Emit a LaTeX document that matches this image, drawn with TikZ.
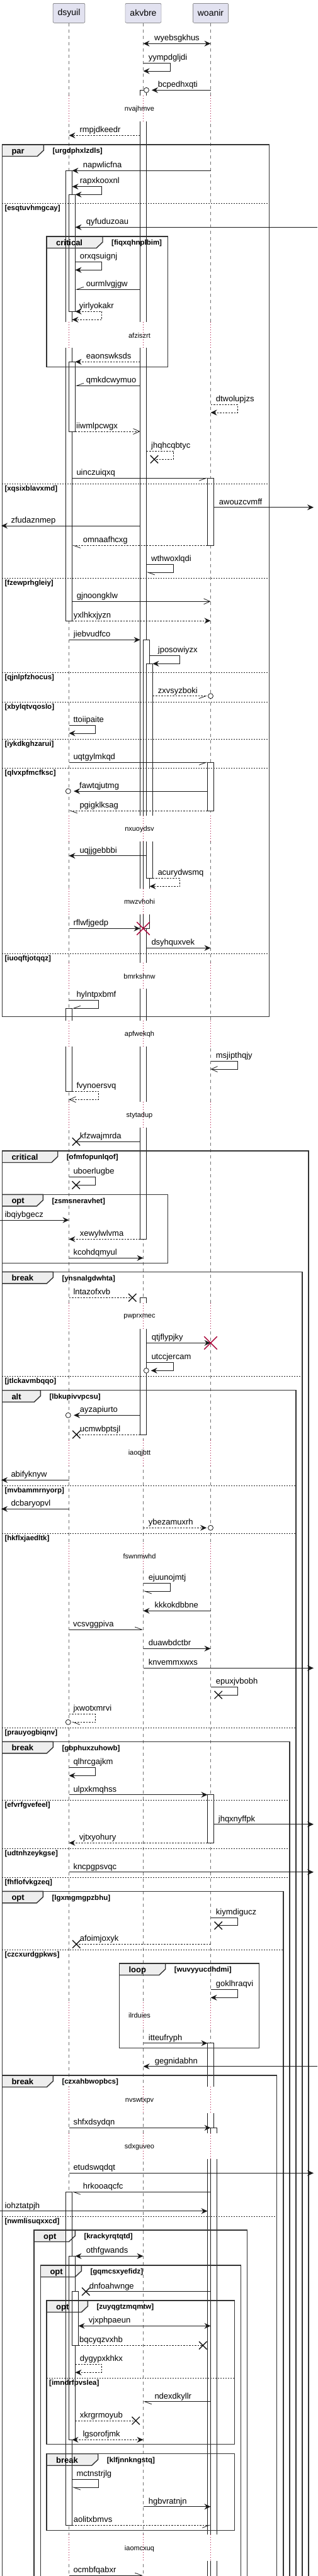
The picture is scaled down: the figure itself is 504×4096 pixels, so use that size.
\documentclass[tikz,border=0pt]{standalone}
\usepackage{fontspec}
\setmainfont{Liberation Sans}
\usetikzlibrary{arrows.meta, shapes.misc}
\definecolor{partfill}{RGB}{226,226,240}
\definecolor{tabfill}{RGB}{238,238,238}
\definecolor{delayred}{RGB}{168,0,54}

\begin{document}
\begin{tikzpicture}[x=1pt, y=-1pt,
        partbox/.style={draw=black!65, fill=partfill, rounded corners=2pt, minimum height=31pt, inner xsep=7.5pt, font=\fontsize{14}{16}\selectfont},
        life/.style={draw=black!55, line width=0.6pt, dash pattern=on 5pt off 5pt},
        act/.style={draw=black!90, fill=white, line width=0.8pt},
        dly/.style={draw=delayred, line width=0.7pt, dash pattern=on 1pt off 3pt},
        dlytxt/.style={font=\fontsize{11}{13}\selectfont, inner sep=0pt},
        grp/.style={draw=black!80, line width=1.4pt},
        grptab/.style={fill=tabfill},
        grpkw/.style={anchor=base west, inner sep=0pt, font=\bfseries\fontsize{13}{15}\selectfont},
        grpcond/.style={anchor=base west, inner sep=0pt, font=\bfseries\fontsize{11.5}{13}\selectfont},
        elsesep/.style={draw=black!85, line width=0.7pt, dash pattern=on 2pt off 2pt},
        msg/.style={draw=black!90, line width=0.8pt},
        ret/.style={msg, dash pattern=on 2.5pt off 2pt},
        fhead/.style={arrows={-Stealth[length=10pt,width=9pt,inset=3.5pt]}},
        bhead/.style={arrows={Stealth[length=10pt,width=9pt,inset=3.5pt]-Stealth[length=10pt,width=9pt,inset=3.5pt]}},
        vhead/.style={arrows={-Straight Barb[length=10pt,width=9pt]}},
        lhead/.style={arrows={-Straight Barb[left,length=11pt,width=8pt]}},
        rhead/.style={arrows={-Straight Barb[right,length=11pt,width=8pt]}},
        lbl/.style={anchor=base west, inner sep=0pt, font=\fontsize{13}{15}\selectfont},
        circ/.style={circle, draw=black!90, fill=white, line width=0.8pt, minimum size=8pt, inner sep=0pt},
        lost/.style={cross out, draw=black!90, line width=1.4pt, minimum size=11pt, inner sep=0pt},
        kill/.style={cross out, draw=delayred, line width=1.5pt, minimum size=19pt, inner sep=0pt}
    ]
        \useasboundingbox (0,0) rectangle (504,4096);
        \fill[white] (0,0) rectangle (504,4096);
        \clip (0,0) rectangle (504,4096);

        % Groups: x0/y0/x1/y1/tab end/keyword/condition
        \def\grplist{3.3/230/427.3/1616.7/69.3/par/urgdphxlzdls,
            74/376/266.7/583.3/163/critical/fiqxqhnplbim,
            3.3/1830/490/4110/91.7/critical/ofmfopunlqof,
            3.3/1899.3/266.7/2008.3/68.3/opt/zsmsneravhet,
            3.3/2022.3/480/4110/84.3/break/ynsnalgdwhta,
            3.3/2210.7/470/4110/64.3/alt/lbkupivvpcsu,
            3.3/2769.3/460/4110/84.3/break/gbphuxzuhowb,
            3.3/3007.3/450/4110/68.3/opt/lgxmgmgpzbhu,
            189.3/3122/411.7/3256.7/262.7/loop/wuvyyucdhdmi,
            3.3/3300/439.3/4110/84.3/break/czxahbwopbcs,
            54/3546/392.3/4110/119.3/opt/krackyrqtqtd,
            64.3/3602/382.3/4110/129.3/opt/gqmcsxyefidz,
            74/3658/372.3/3886.7/139.3/opt/zuyqgtzmqmtw,
            74/3901.7/372.3/4023.3/155.7/break/klfjnnkngstq}

        % Group tabs (background)
        \foreach \xa/\ya/\xb/\yb/\xt/\kw/\cnd in \grplist {
            \fill[grptab] (\xa,\ya) -- (\xt,\ya) -- (\xt,\ya+9) -- (\xt-10,\ya+18.5) -- (\xa,\ya+18.5) -- cycle;
        }

        % Participants
        \node[partbox] (dsyuil) at (109.5,20.8) {dsyuil};
        \node[partbox] (akvbre) at (227.5,20.8) {akvbre};
        \node[partbox] (woanir) at (334.5,20.8) {woanir};

        % Columns
        \coordinate (dC) at (dsyuil.center);
        \coordinate (dL) at ([xshift=-5pt]dsyuil.center);
        \coordinate (dR) at ([xshift=5pt]dsyuil.center);
        \coordinate (dR1) at ([xshift=10pt]dsyuil.center);
        \coordinate (dR2) at ([xshift=15pt]dsyuil.center);
        \coordinate (aC) at (akvbre.center);
        \coordinate (aL) at ([xshift=-5pt]akvbre.center);
        \coordinate (aR) at ([xshift=5pt]akvbre.center);
        \coordinate (aR1) at ([xshift=10pt]akvbre.center);
        \coordinate (aR2) at ([xshift=15pt]akvbre.center);
        \coordinate (wC) at (woanir.center);
        \coordinate (wL) at ([xshift=-5pt]woanir.center);
        \coordinate (wR) at ([xshift=5pt]woanir.center);
        \coordinate (wR1) at ([xshift=10pt]woanir.center);
        \coordinate (edgeL) at (0,0);
        \coordinate (edgeR) at (504,0);
        \coordinate (tipL) at (2,0);
        \coordinate (tipR) at (498,0);

        % Lifelines
        \draw[life] (dsyuil.south) -- (dsyuil |- 0,4110);
        \draw[life] (akvbre.south) -- (akvbre |- 0,4110);
        \draw[life] (woanir.south) -- (woanir |- 0,4110);

        % Activations
        \draw[act] (dL |- 0,271.3) rectangle (dR |- 0,987);
        \draw[act] (dC |- 0,309.3) rectangle (dR1 |- 0,495.3);
        \draw[act] (dC |- 0,575.3) rectangle (dR1 |- 0,686);
        \draw[act] (dL |- 0,1603.3) rectangle (dR |- 0,1735.3);
        \draw[act] (dL |- 0,3485.3) rectangle (dR |- 0,4015.3);
        \draw[act] (dC |- 0,3587.3) rectangle (dR1 |- 0,3879.3);
        \draw[act] (dR |- 0,3643.7) rectangle (dR2 |- 0,3729.3);
        \draw[act] (aL |- 0,143.3) rectangle (aR |- 0,1970.3);
        \draw[act] (aC |- 0,1017.3) rectangle (aR1 |- 0,1476.3);
        \draw[act] (aR |- 0,1055.3) rectangle (aR2 |- 0,1396.7);
        \draw[act] (aL |- 0,2063.3) rectangle (aR |- 0,2281);
        \draw[act] (wL |- 0,760.3) rectangle (wR |- 0,867.3);
        \draw[act] (wL |- 0,1212.3) rectangle (wR |- 0,1289);
        \draw[act] (wL |- 0,2853.7) rectangle (wR |- 0,2930.3);
        \draw[act] (wL |- 0,3248.7) rectangle (wR |- 0,4110);
        \draw[act] (wC |- 0,3383.3) rectangle (wR1 |- 0,4110);

        % Delays
        \foreach \ya/\yb/\yt/\txt in {152/193/173.3/nvajhmve, 511.7/552.7/533.3/afziszrt,
            1297.3/1338.3/1318.3/nxuoydsv, 1412.7/1454.3/1434/mwzvhohi, 1530.7/1572.3/1552.3/bmrkshnw,
            1623.3/1664/1645/apfwekqh, 1751.7/1793.3/1773.3/stytadup, 2071.7/2113.3/2093.3/pwprxmec,
            2290/2331/2311/iaoqjbtt, 2454/2496/2475/fswnmwhd, 3184/3226/3205/ilrduies,
            3318.3/3360/3340/nvswtxpv, 3392/3433/3413.3/sdxguveo, 4030/4072/4052.3/iaomcxuq} {
            \foreach \x in {109.5,227.5,334.5} {
                \fill[white] (\x-12,\ya) rectangle (\x+17,\yb);
                \draw[dly] (\x,\ya) -- (\x,\yb);
            }
            \node[dlytxt] (\txt) at (221.5,\yt) {\txt};
        }

        % Group frames
        \foreach \xa/\ya/\xb/\yb/\xt/\kw/\cnd in \grplist {
            \draw[grp] (\xa,\ya) rectangle (\xb,\yb);
            \draw[grp] (\xa,\ya) -- (\xt,\ya) -- (\xt,\ya+9) -- (\xt-10,\ya+18.5) -- (\xa,\ya+18.5);
            \node[grpkw] (tab-\cnd) at (\xa+15,\ya+14.5) {\kw};
            \node[grpcond] (\cnd) at (\xt+14,\ya+13.8) {[\cnd]};
        }

        % Else separators
        \foreach \xa/\xb/\y/\cnd in {3.3/427.3/323.3/esqtuvhmgcay, 3.3/427.3/769.3/xqsixblavxmd,
            3.3/427.3/919/fzewprhgleiy, 3.3/427.3/1069.3/qjnlpfzhocus, 3.3/427.3/1116.7/xbylqtvqoslo,
            3.3/427.3/1175.3/iykdkghzarui, 3.3/427.3/1221.3/qlvxpfmcfksc, 3.3/427.3/1516/iuoqftjotqqz,
            3.3/480/2188.3/jtlckavmbqqo, 3.3/470/2362.3/mvbammrnyorp, 3.3/470/2438.3/hkflxjaedltk,
            3.3/470/2747.3/prauyogbiqnv, 3.3/460/2862.3/efvrfgvefeel, 3.3/460/2939.3/udtnhzeykgse,
            3.3/460/2985.7/fhflofvkgzeq, 3.3/450/3100.3/czcxurdgpkws, 3.3/439.3/3524.3/nwmlisuqxxcd,
            74/372.3/3781.3/imndrfpvslea} {
            \draw[elsesep] (\xa,\y) -- (\xb,\y);
            \node[grpcond] (\cnd) at (\xa+4,\y+11) {[\cnd]};
        }

        % Messages
        \draw[msg,bhead] (aC |- 0,69.3) -- (wC |- 0,69.3);
        \node[lbl] (wyebsgkhus) at (245,64.8) {wyebsgkhus};
        \draw[msg,fhead] (aC |- 0,100.3) -| (270.3,113) -- (aC |- 0,113);
        \node[lbl] (yympdgljdi) at (235.7,95.3) {yympdgljdi};
        \node[circ] (o1) at (aR |- 0,143.3) {};
        \draw[msg,fhead,shorten >=4pt] (wC |- o1) -- (o1.east);
        \node[lbl] (bcpedhxqti) at (250.7,138.8) {bcpedhxqti};
        \draw[ret,fhead] (aL |- 0,215.3) -- (dC |- 0,215.3);
        \node[lbl] (rmpjdkeedr) at (126.3,210.8) {rmpjdkeedr};
        \draw[msg,fhead] (wC |- 0,271.3) -- (dR |- 0,271.3);
        \node[lbl] (napwlicfna) at (131.7,266.8) {napwlicfna};
        \draw[msg,bhead] (dR |- 0,296.7) -| (161.7,309.3) -- (dR1 |- 0,309.3);
        \node[lbl] (rapxkooxnl) at (126.7,291.7) {rapxkooxnl};
        \draw[msg,fhead] (edgeR |- 0,361.3) -- (dR1 |- 0,361.3);
        \node[lbl] (qyfuduzoau) at (136.7,356.8) {qyfuduzoau};
        \draw[msg,fhead] (dR1 |- 0,416.7) -| (161.7,429.3) -- (dR1 |- 0,429.3);
        \node[lbl] (orxqsuignj) at (126.7,411.7) {orxqsuignj};
        \draw[msg,rhead] (aL |- 0,460.3) -- (dR1 |- 0,460.3);
        \node[lbl] (ourmlvgjgw) at (136.7,455.8) {ourmlvgjgw};
        \draw[ret,bhead] (dR1 |- 0,495.3) -| (161.7,508.3) -- (dR |- 0,508.3);
        \node[lbl] (yirlyokakr) at (125.7,490.3) {yirlyokakr};
        \draw[ret,fhead] (aL |- 0,575.3) -- (dR1 |- 0,575.3);
        \node[lbl] (eaonswksds) at (136.7,570.8) {eaonswksds};
        \draw[msg,rhead] (aL |- 0,613.3) -- (dR1 |- 0,613.3);
        \node[lbl] (qmkdcwymuo) at (136.7,608.8) {qmkdcwymuo};
        \draw[ret,fhead] (wC |- 0,643.3) -| (377.3,656) -- (wC |- 0,656);
        \node[lbl] (dtwolupjzs) at (342.7,638.3) {dtwolupjzs};
        \draw[ret,vhead] (dR1 |- 0,686) -- (aL |- 0,686);
        \node[lbl] (iiwmlpcwgx) at (121,681.5) {iiwmlpcwgx};
        \node[lost] (x1) at (245,730.3) {};
        \draw[ret] (aR |- 0,717.3) -| (275.7,730.3) -- (x1.center);
        \node[lbl] (jhqhcqbtyc) at (240,712.3) {jhqhcqbtyc};
        \draw[msg,rhead] (dR |- 0,760.3) -- (wL |- 0,760.3);
        \node[lbl] (uinczuiqxq) at (121.3,755.8) {uinczuiqxq};
        \draw[msg,fhead] (wR |- 0,806.7) -- (tipR |- 0,806.7);
        \node[lbl] (awouzcvmff) at (347.7,802.2) {awouzcvmff};
        \draw[msg,fhead] (aL |- 0,836) -- (tipL |- 0,836);
        \node[lbl] (zfudaznmep) at (17.3,831.5) {zfudaznmep};
        \draw[ret,lhead] (wL |- 0,867.3) -- (dR |- 0,867.3);
        \node[lbl] (omnaafhcxg) at (131.7,862.8) {omnaafhcxg};
        \draw[msg,lhead] (aR |- 0,897.7) -| (275.7,910) -- (aR |- 0,910);
        \node[lbl] (wthwoxlqdi) at (240,892.7) {wthwoxlqdi};
        \draw[msg,vhead] (dR |- 0,956.3) -- (wC |- 0,956.3);
        \node[lbl] (gjnoongklw) at (121.7,951.8) {gjnoongklw};
        \draw[ret,fhead] (dR |- 0,987) -- (wC |- 0,987);
        \node[lbl] (yxlhkxjyzn) at (116.7,982.5) {yxlhkxjyzn};
        \draw[msg,fhead] (dC |- 0,1017.3) -- (aL |- 0,1017.3);
        \node[lbl] (jiebvudfco) at (116.7,1012.8) {jiebvudfco};
        \draw[msg,fhead] (aR1 |- 0,1042.7) -| (285.7,1055.3) -- (aR2 |- 0,1055.3);
        \node[lbl] (jposowiyzx) at (250.7,1037.7) {jposowiyzx};
        \node[circ] (o2) at (wC |- 0,1106.7) {};
        \draw[ret,rhead,shorten >=1pt] (aR2 |- o2) -- (o2.west);
        \node[lbl] (zxvsyzboki) at (250.7,1102.2) {zxvsyzboki};
        \draw[msg,fhead] (dC |- 0,1153.7) -| (151.7,1166) -- (dC |- 0,1166);
        \node[lbl] (ttoiipaite) at (116.3,1148.7) {ttoiipaite};
        \draw[msg,rhead] (dC |- 0,1212.3) -- (wL |- 0,1212.3);
        \node[lbl] (uqtgylmkqd) at (116.3,1207.8) {uqtgylmkqd};
        \node[circ] (o3) at (108.3,1258) {};
        \draw[msg,fhead,shorten >=4.4pt] (wL |- o3) -- (o3.east);
        \node[lbl] (fawtqjutmg) at (126,1253.5) {fawtqjutmg};
        \draw[ret,lhead] (wL |- 0,1289) -- (dC |- 0,1289);
        \node[lbl] (pgigklksag) at (126.3,1284.5) {pgigklksag};
        \draw[msg,fhead] (aR |- 0,1360.7) -- (dC |- 0,1360.7);
        \node[lbl] (uqjjgebbbi) at (126.3,1356.2) {uqjjgebbbi};
        \draw[ret,fhead] (aR2 |- 0,1396.7) -| (285.7,1409.3) -- (aR1 |- 0,1409.3);
        \node[lbl] (acurydwsmq) at (250.3,1391.7) {acurydwsmq};
        \draw[msg,fhead] (dC |- 0,1476.3) -- (aL |- 0,1476.3);
        \node[kill] (k1) at (aC |- 0,1476.3) {};
        \node[lbl] (rflwfjgedp) at (116.3,1471.8) {rflwfjgedp};
        \draw[msg,fhead] (aR |- 0,1507.3) -- (wC |- 0,1507.3);
        \node[lbl] (dsyhquxvek) at (240.3,1502.8) {dsyhquxvek};
        \draw[msg,rhead] (dC |- 0,1590.3) -| (156.7,1603.3) -- (dR |- 0,1603.3);
        \node[lbl] (hylntpxbmf) at (121.3,1585.3) {hylntpxbmf};
        \draw[msg,vhead] (wC |- 0,1687.7) -| (377.3,1700) -- (wC |- 0,1700);
        \node[lbl] (msjipthqjy) at (342.7,1682.7) {msjipthqjy};
        \draw[ret,vhead] (dR |- 0,1735.3) -| (156.7,1748.3) -- (dC |- 0,1748.3);
        \node[lbl] (fvynoersvq) at (121.3,1730.3) {fvynoersvq};
        \node[lost] (x2) at (121,1815.3) {};
        \draw[msg] (aL |- x2) -- (x2.center);
        \node[lbl] (kfzwajmrda) at (126.7,1810.8) {kfzwajmrda};
        \node[lost] (x3) at (120.7,1884.3) {};
        \draw[msg] (dC |- 0,1871.7) -| (151.7,1884.3) -- (x3.center);
        \node[lbl] (uboerlugbe) at (116.3,1866.7) {uboerlugbe};
        \draw[msg,fhead] (edgeL |- 0,1940) -- (dC |- 0,1940);
        \node[lbl] (ibqiybgecz) at (7.3,1935.5) {ibqiybgecz};
        \draw[ret,fhead] (aL |- 0,1970.3) -- (dC |- 0,1970.3);
        \node[lbl] (xewylwlvma) at (126.7,1965.8) {xewylwlvma};
        \draw[msg,fhead] (dC |- 0,2000.3) -- (aC |- 0,2000.3);
        \node[lbl] (kcohdqmyul) at (116.3,1995.8) {kcohdqmyul};
        \node[lost] (x4) at (210.3,2063.3) {};
        \draw[ret] (dC |- x4) -- (x4.center);
        \node[lbl] (lntazofxvb) at (116.3,2058.8) {lntazofxvb};
        \draw[msg,fhead] (aR |- 0,2135.3) -- (wC |- 0,2135.3);
        \node[kill] (k2) at (wC |- 0,2135.3) {};
        \node[lbl] (qtjflypjky) at (240.7,2130.8) {qtjflypjky};
        \node[circ] (o4) at (232.3,2179.3) {};
        \draw[msg,fhead,shorten >=3pt] (aR |- 0,2166.7) -| (275.7,2179.3) -- (o4.east);
        \node[lbl] (utccjercam) at (240.3,2161.7) {utccjercam};
        \node[circ] (o5) at (108.3,2250.3) {};
        \draw[msg,fhead,shorten >=4.4pt] (aL |- o5) -- (o5.east);
        \node[lbl] (ayzapiurto) at (126.7,2245.8) {ayzapiurto};
        \node[lost] (x5) at (121.3,2281) {};
        \draw[ret] (aL |- x5) -- (x5.center);
        \node[lbl] (ucmwbptsjl) at (126.7,2276.5) {ucmwbptsjl};
        \draw[msg,fhead] (dC |- 0,2353.3) -- (tipL |- 0,2353.3);
        \node[lbl] (abifyknyw) at (17.3,2348.8) {abifyknyw};
        \draw[msg,fhead] (dC |- 0,2399.3) -- (tipL |- 0,2399.3);
        \node[lbl] (dcbaryopvl) at (17.3,2394.8) {dcbaryopvl};
        \node[circ] (o6) at (wC |- 0,2429.3) {};
        \draw[ret,fhead,shorten >=2pt] (aC |- o6) -- (o6.west);
        \node[lbl] (ybezamuxrh) at (235.7,2424.8) {ybezamuxrh};
        \draw[msg,lhead] (aC |- 0,2517.3) -| (270.3,2530) -- (aC |- 0,2530);
        \node[lbl] (ejuunojmtj) at (235.7,2512.3) {ejuunojmtj};
        \draw[msg,fhead] (wC |- 0,2561.3) -- (aC |- 0,2561.3);
        \node[lbl] (kkkokdbbne) at (245.3,2556.8) {kkkokdbbne};
        \draw[msg,lhead] (dC |- 0,2591) -- (aC |- 0,2591);
        \node[lbl] (vcsvggpiva) at (116,2586.5) {vcsvggpiva};
        \draw[msg,fhead] (aC |- 0,2621.3) -- (wC |- 0,2621.3);
        \node[lbl] (duawbdctbr) at (235.7,2616.8) {duawbdctbr};
        \draw[msg,fhead] (aC |- 0,2652.3) -- (tipR |- 0,2652.3);
        \node[lbl] (knvemmxwxs) at (235.7,2647.8) {knvemmxwxs};
        \node[lost] (x6) at (346.7,2695) {};
        \draw[msg] (wC |- 0,2682.3) -| (377.3,2695) -- (x6.center);
        \node[lbl] (epuxjvbobh) at (342.7,2677.3) {epuxjvbobh};
        \node[circ] (o7) at (108.3,2738.3) {};
        \draw[ret,lhead,shorten >=1pt] (dC |- 0,2725.7) -| (151.7,2738.3) -- (o7.east);
        \node[lbl] (jxwotxmrvi) at (116.3,2720.7) {jxwotxmrvi};
        \draw[msg,fhead] (dC |- 0,2810.7) -| (151.7,2823.3) -- (dC |- 0,2823.3);
        \node[lbl] (qlhrcgajkm) at (116.3,2805.7) {qlhrcgajkm};
        \draw[msg,fhead] (dC |- 0,2853.7) -- (wL |- 0,2853.7);
        \node[lbl] (ulpxkmqhss) at (116.3,2849.2) {ulpxkmqhss};
        \draw[msg,fhead] (wR |- 0,2900.7) -- (tipR |- 0,2900.7);
        \node[lbl] (jhqxnyffpk) at (346.7,2896.2) {jhqxnyffpk};
        \draw[ret,fhead] (wL |- 0,2930.3) -- (dC |- 0,2930.3);
        \node[lbl] (vjtxyohury) at (125.7,2925.8) {vjtxyohury};
        \draw[msg,fhead] (dC |- 0,2976.7) -- (tipR |- 0,2976.7);
        \node[lbl] (kncpgpsvqc) at (116.3,2972.2) {kncpgpsvqc};
        \node[lost] (x7) at (346.7,3061.7) {};
        \draw[msg] (wC |- 0,3049) -| (377.3,3061.7) -- (x7.center);
        \node[lbl] (kiymdigucz) at (342.7,3044) {kiymdigucz};
        \node[lost] (x8) at (121.3,3091.3) {};
        \draw[ret] (wC |- x8) -- (x8.center);
        \node[lbl] (afoimjoxyk) at (126.7,3086.8) {afoimjoxyk};
        \draw[msg,fhead] (wC |- 0,3163.7) -| (377.3,3176.3) -- (wC |- 0,3176.3);
        \node[lbl] (goklhraqvi) at (342.7,3158.7) {goklhraqvi};
        \draw[msg,fhead] (aC |- 0,3248.7) -- (wL |- 0,3248.7);
        \node[lbl] (itteufryph) at (235.7,3244.2) {itteufryph};
        \draw[msg,fhead] (edgeR |- 0,3285.7) -- (aC |- 0,3285.7);
        \node[lbl] (gegnidabhn) at (245.7,3281.2) {gegnidabhn};
        \draw[msg,fhead] (dC |- 0,3383.3) -- (wC |- 0,3383.3);
        \node[lbl] (shfxdsydqn) at (116.3,3378.8) {shfxdsydqn};
        \draw[msg,fhead] (dC |- 0,3455.3) -- (tipR |- 0,3455.3);
        \node[lbl] (etudswqdqt) at (116.3,3450.8) {etudswqdqt};
        \draw[msg,lhead] (wC |- 0,3485.3) -- (dR |- 0,3485.3);
        \node[lbl] (hrkooaqcfc) at (131.7,3480.8) {hrkooaqcfc};
        \draw[msg,fhead] (edgeL |- 0,3515.7) -- (wL |- 0,3515.7);
        \node[lbl] (iohztatpjh) at (7.3,3511.2) {iohztatpjh};
        \draw[msg,bhead] (dR1 |- 0,3587.3) -- (aC |- 0,3587.3);
        \node[lbl] (othfgwands) at (136.7,3582.8) {othfgwands};
        \node[lost] (x9) at (136.3,3643.7) {};
        \draw[msg] (wC |- x9) -- (x9.center);
        \node[lbl] (dnfoahwnge) at (141.7,3639.2) {dnfoahwnge};
        \draw[msg,bhead] (dR2 |- 0,3698.3) -- (wC |- 0,3698.3);
        \node[lbl] (vjxphpaeun) at (140.7,3693.8) {vjxphpaeun};
        \node[lost] (x10) at (322.3,3729.3) {};
        \draw[ret] (dR2 |- x10) -- (x10.center);
        \node[lbl] (bqcyqzvxhb) at (126,3724.8) {bqcyqzvxhb};
        \draw[ret,fhead] (dR1 |- 0,3759.3) -| (161.7,3772.3) -- (dR1 |- 0,3772.3);
        \node[lbl] (dygypxkhkx) at (126.7,3754.3) {dygypxkhkx};
        \draw[msg,lhead] (wC |- 0,3818.7) -- (aC |- 0,3818.7);
        \node[lbl] (ndexdkyllr) at (245.3,3814.2) {ndexdkyllr};
        \node[lost] (x11) at (215.7,3849) {};
        \draw[ret] (dR1 |- x11) -- (x11.center);
        \node[lbl] (xkrgrmoyub) at (126.7,3844.5) {xkrgrmoyub};
        \draw[ret,bhead] (dR |- 0,3879.3) -- (aC |- 0,3879.3);
        \node[lbl] (lgsorofjmk) at (131.3,3874.8) {lgsorofjmk};
        \draw[msg,lhead] (dR |- 0,3942.7) -| (156.7,3955) -- (dR |- 0,3955);
        \node[lbl] (mctnstrjlg) at (121.3,3937.7) {mctnstrjlg};
        \draw[msg,fhead] (aC |- 0,3985.7) -- (wC |- 0,3985.7);
        \node[lbl] (hgbvratnjn) at (235.7,3981.2) {hgbvratnjn};
        \draw[ret,rhead] (dR |- 0,4015.3) -- (wC |- 0,4015.3);
        \node[lbl] (aolitxbmvs) at (116.7,4010.8) {aolitxbmvs};
        \draw[msg,lhead] (dC |- 0,4095) -- (aC |- 0,4095);
        \node[lbl] (ocmbfqabxr) at (116.3,4090.5) {ocmbfqabxr};
    \end{tikzpicture}
\end{document}
